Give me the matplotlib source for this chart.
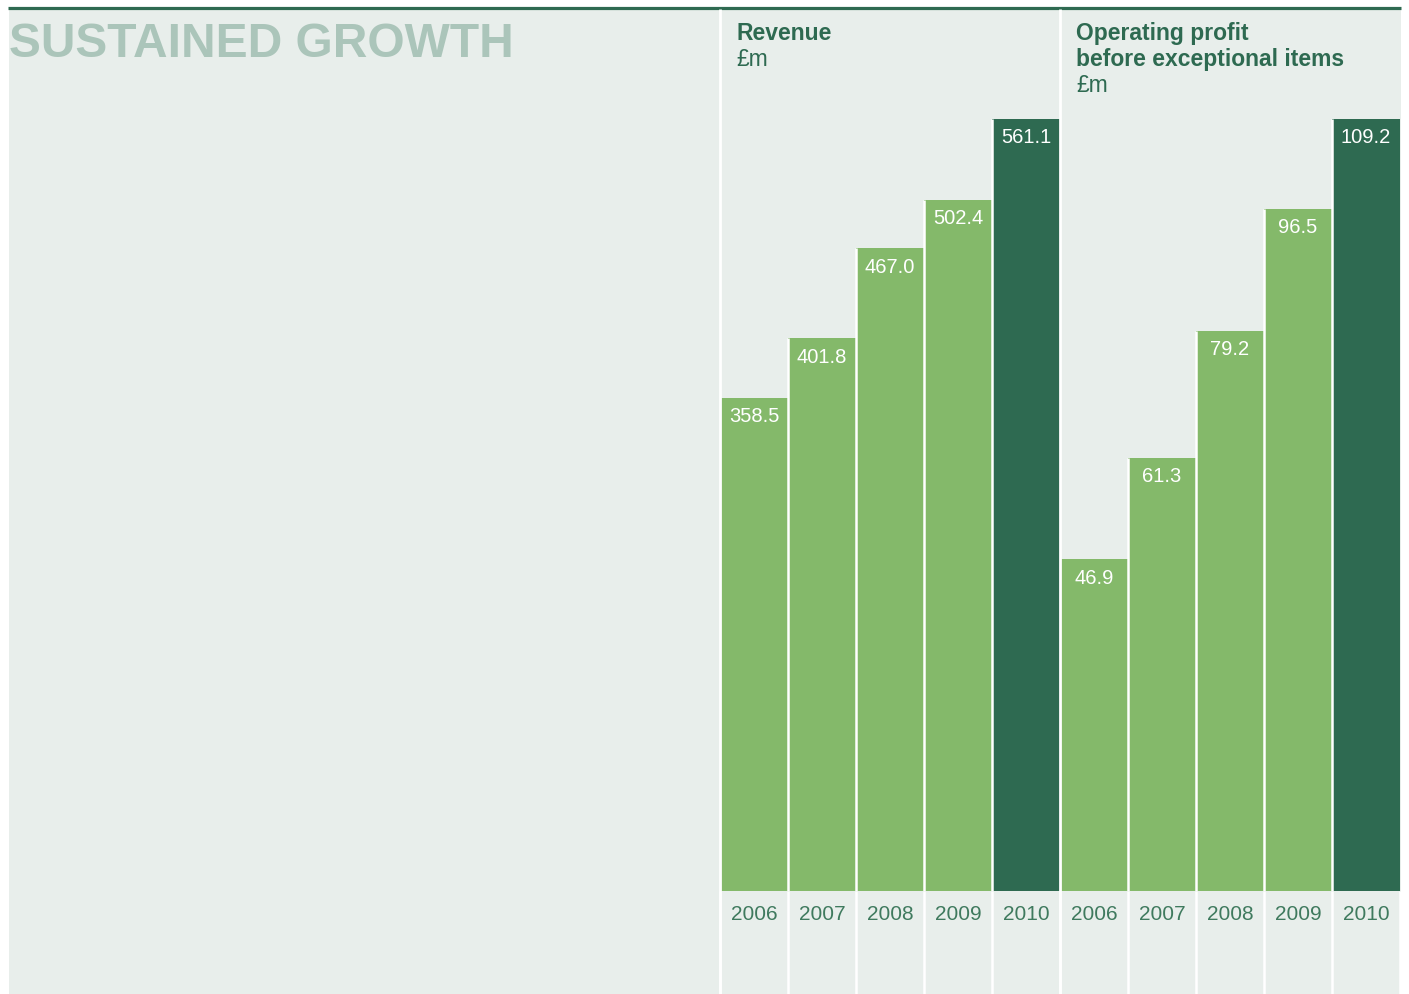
import matplotlib.pyplot as plt
from matplotlib.lines import Line2D
from matplotlib.patches import Rectangle

W, H = 1409, 995

years = ["2006", "2007", "2008", "2009", "2010"]
revenue = [358.5, 401.8, 467.0, 502.4, 561.1]
profit = [46.9, 61.3, 79.2, 96.5, 109.2]

bg = "#e8eeeb"
dark = "#2e6a51"
light = "#84b96a"
title_col = "#abc5ba"
year_col = "#3f7a5e"

plt.rcParams["font.family"] = ["Liberation Sans", "DejaVu Sans"]

fig = plt.figure(figsize=(W / 100, H / 100), dpi=100, facecolor="white")


def fx(x):
    return x / W


def fy(y):
    return 1 - y / H


# light panel + top rule
fig.add_artist(Rectangle((fx(9), 0), fx(1401) - fx(9), fy(10), transform=fig.transFigure,
                         facecolor=bg, edgecolor="none", zorder=0))
fig.add_artist(Line2D([fx(8), fx(1401)], [fy(8.5), fy(8.5)], transform=fig.transFigure,
                      color=dark, lw=2.3, solid_capstyle="butt"))

fig.text(fx(9), fy(57), "SUSTAINED GROWTH", fontsize=34.5, fontweight="bold",
         color=title_col, ha="left", va="baseline")

# full height separators
for x in [720, 1060]:
    fig.add_artist(Line2D([fx(x), fx(x)], [0, fy(10)], transform=fig.transFigure,
                          color="white", lw=2, solid_capstyle="butt", zorder=5))

top, base = 120, 892


def panel(left, values, header):
    ax = fig.add_axes([fx(left), fy(base), fx(340), (base - top) / H])
    ax.set_facecolor("none")
    n = len(values)
    cols = [light] * (n - 1) + [dark]
    ax.bar(range(n), values, width=1, color=cols, edgecolor="none")
    ax.set_xlim(-0.5, n - 0.5)
    ax.set_ylim(0, max(values))
    # white gaps between neighbouring bars, up to the taller one
    for i in range(n - 1):
        ax.plot([i + 0.5, i + 0.5], [0, max(values[i], values[i + 1])], color="white",
                lw=1.8, solid_capstyle="butt")
    for i, v in enumerate(values):
        ax.annotate(f"{v:.1f}", (i, v), xytext=(0, -6), textcoords="offset points",
                    ha="center", va="top", color="white", fontsize=14.5)
    # white lines below the bars
    below = (H - base) / (base - top)
    tr = ax.get_xaxis_transform()
    for b in range(n + 1):
        ax.add_line(Line2D([b - 0.5, b - 0.5], [-below, 0], transform=tr, color="white",
                           lw=1.8, clip_on=False, solid_capstyle="butt"))
    ax.set_xticks(range(n))
    ax.set_xticklabels(years, color=year_col, fontsize=15)
    ax.tick_params(axis="x", length=0, pad=9)
    ax.set_yticks([])
    for s in ax.spines.values():
        s.set_visible(False)
    for j, (txt, bold) in enumerate(header):
        fig.text(fx(left + 16), fy(40 + 26 * j), txt, fontsize=16.5,
                 fontweight="bold" if bold else "normal", color=dark, va="baseline")
    return ax


panel(720, revenue, [("Revenue", True), ("£m", False)])
panel(1060, profit, [("Operating profit", True), ("before exceptional items", True), ("£m", False)])

fig.savefig("out.png", dpi=100, facecolor="white")
